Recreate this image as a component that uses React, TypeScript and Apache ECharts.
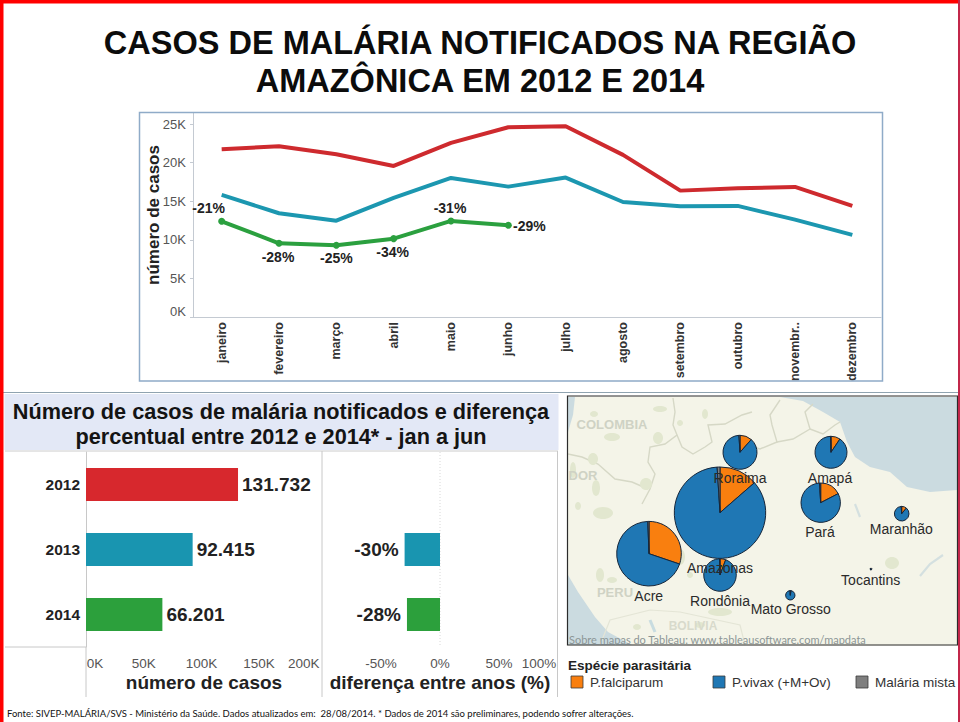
import React, { useEffect, useRef } from "react";
import * as echarts from "echarts";

const months = ["janeiro", "fevereiro", "março", "abril", "maio", "junho", "julho", "agosto", "setembro", "outubro", "novembr..", "dezembro"];
const yTicksNote = "K";
const cases2012 = [21730, 22120, 21080, 19570, 22550, 24580, 24710, 21000, 16370, 16680, 16850, 14390];
const cases2013 = [15810, 13440, 12480, 15420, 18010, 16890, 18060, 14900, 14340, 14390, 12610, 10630];
const cases2014 = [12400, 9550, 9290, 10150, 12440, 11880];
const diff2014 = [-21, -28, -25, -34, -31, -29];

const years = ["2012", "2013", "2014"];
const totals = [131732, 92415, 66201];
const diffs = [null, -30, -28];

const states = ["Acre", "Rondônia", "Amazonas", "Roraima", "Amapá", "Pará", "Maranhão", "Mato Grosso", "Tocantins"];
const falciparum = [30.2, 5.7, 13.6, 11.5, 9.4, 17.4, 11, 3, 5];
const vivax = [69.2, 93.8, 85.4, 87.5, 90.1, 81.6, 88, 96.5, 95];
const mista = [0.6, 0.5, 1, 1, 0.5, 1, 1, 0.5, 0];
const species = ["P.falciparum", "P.vivax (+M+Ov)", "Malária mista"];

const RED = "#CE2A2E";
const TEAL = "#1C97B0";
const GREEN = "#2BA03F";
const ORANGE = "#F97F0F";
const BLUE = "#1F77B4";
const GRAY = "#7F7F7F";
const SANS = '"Liberation Sans", Arial, sans-serif';

const pieLayout: Record<string, { c: number[]; r: number; l: number[] }> = {
  Acre: { c: [649, 553.7], r: 32.3, l: [648.7, 596] },
  Rondônia: { c: [720, 575], r: 16.3, l: [720, 600.7] },
  Amazonas: { c: [720, 512.7], r: 45.7, l: [720, 568] },
  Roraima: { c: [740, 452.3], r: 17, l: [740, 478] },
  Amapá: { c: [831, 452.3], r: 16, l: [830, 477.7] },
  Pará: { c: [820.7, 502.7], r: 19.7, l: [820, 532] },
  Maranhão: { c: [901.7, 513.7], r: 7.3, l: [901.3, 529] },
  "Mato Grosso": { c: [790.3, 595.3], r: 4.7, l: [790.7, 609] },
  Tocantins: { c: [871, 569], r: 1.3, l: [870.7, 580] },
};

const pctOffsets = [[-13, -13], [-1, 14], [0, 13], [-1, 13], [-1, -13], [21, 1]];

const txt = (text: string, x: number, y: number, font: string, fill: string, align = "center", z = 100, extra: any = {}) => ({
  type: "text", x, y, z, silent: true,
  style: { text, font, fill, align, verticalAlign: "middle", ...extra },
});
const rect = (x: number, y: number, w: number, h: number, fill: string, z = 0, extra: any = {}) => ({
  type: "rect", z, silent: true, shape: { x, y, width: w, height: h }, style: { fill, ...extra },
});
const vline = (x: number, y1: number, y2: number, stroke: string, extra: any = {}, z = 1) => ({
  type: "line", z, silent: true, shape: { x1: x, y1, x2: x, y2 }, style: { stroke, lineWidth: 1, ...extra },
});
const hline = (x1: number, x2: number, y: number, stroke: string, z = 1) => ({
  type: "line", z, silent: true, shape: { x1, y1: y, x2, y2: y }, style: { stroke, lineWidth: 1 },
});
const poly = (points: number[][], fill: string, z = 1) => ({
  type: "polygon", z, silent: true, shape: { points }, style: { fill },
});
const pline = (points: number[][], stroke = "#D6D8C6", lineWidth = 1.4, z = 1) => ({
  type: "polyline", z, silent: true, shape: { points }, style: { stroke, lineWidth, fill: "none" },
});
const blob = (cx: number, cy: number, rx: number, ry: number, fill = "#E2E7CF", z = 1) => ({
  type: "ellipse", z, silent: true, shape: { cx, cy, rx, ry }, style: { fill },
});

function mapGraphics() {
  const land = "#F4F4E8";
  const sea = "#CBDBE0";
  return [
    rect(567.5, 396.5, 390, 249, land, 0),
    poly([[775, 397], [780, 397], [803, 401], [823, 412], [840, 422], [847, 442], [855, 457], [870, 467], [890, 472], [907, 487], [930, 492], [957, 490], [957, 397]], sea),
    poly([[568, 575], [578, 592], [595, 617], [608, 632], [632, 645], [568, 645]], sea),
    poly([[568, 397], [575, 397], [573, 415], [568, 432]], sea),
    pline([[673, 398], [675, 412], [673, 425], [677, 435], [665, 444], [650, 447], [648, 462], [655, 474], [650, 489], [642, 504]]),
    pline([[677, 435], [682, 447], [693, 454], [705, 447], [712, 442], [708, 425], [725, 424], [742, 415], [752, 412]]),
    pline([[568, 454], [582, 457], [598, 464], [615, 479], [632, 482], [648, 489]]),
    pline([[780, 400], [770, 415], [772, 425], [777, 442], [760, 449], [750, 446], [742, 447]]),
    pline([[777, 442], [793, 439], [810, 429], [805, 412], [813, 404]]),
    pline([[810, 429], [823, 434], [835, 425], [840, 422]]),
    pline([[600, 645], [610, 620], [650, 610], [680, 612], [740, 625], [745, 645]], "#E4E5D6", 1.2),
    pline([[920, 576], [930, 564], [943, 555]], "#D4E0E0", 2.2),
    pline([[855, 504], [860, 517]], "#D4E0E0", 2.2),
    pline([[650, 620], [655, 632]], "#C8DCE0", 3),
    blob(612, 437, 8, 4), blob(594, 398 + 16, 4, 3), blob(660, 409, 7, 3), blob(658, 438, 5, 6),
    blob(705, 414, 3, 5), blob(680, 423, 3, 3), blob(593, 459, 5, 6), blob(596, 488, 4, 8),
    blob(646, 484, 6, 6), blob(603, 513, 10, 6), blob(578, 506, 3, 4), blob(567 + 6, 470, 3, 8),
    blob(600, 575, 4, 7), blob(612, 580, 5, 3), blob(680, 557, 5, 8), blob(690, 575, 3, 3),
    blob(720, 612, 12, 4), blob(700, 625, 5, 3), blob(637, 627, 4, 3), blob(892, 563, 7, 6),
    txt("COLOMBIA", 612, 424, `bold 13px ${SANS}`, "#CFD2C4", "center", 2),
    txt("DOR", 583, 475, `bold 13px ${SANS}`, "#CFD2C4", "center", 2),
    txt("PERU", 615, 592, `bold 13px ${SANS}`, "#CFD2C4", "center", 2),
    txt("BOLIVIA", 693, 626, `bold 12px ${SANS}`, "#D8DACC", "center", 2),
    txt("Sobre mapas do Tableau: www.tableausoftware.com/mapdata", 569, 639, `11px Lato, sans-serif`, "#8C9696", "left", 60),
    { type: "rect", z: 50, silent: true, shape: { x: 567.5, y: 396, width: 390, height: 249 }, style: { fill: "none", stroke: "#2B2B2B", lineWidth: 1.2 } },
  ];
}

function pieSeries() {
  return states.map((s, i) => ({
    type: "pie", silent: true, z: 5 + (s === "Rondônia" ? 0 : 1),
    center: pieLayout[s].c,
    radius: [0, pieLayout[s].r],
    startAngle: 90, clockwise: true,
    label: { show: false }, labelLine: { show: false },
    itemStyle: { borderColor: "#16263A", borderWidth: pieLayout[s].r < 3 ? 0 : 1 },
    data: [
      { name: species[0], value: falciparum[i], itemStyle: { color: ORANGE } },
      { name: species[1], value: vivax[i], itemStyle: { color: s === "Tocantins" ? "#16263A" : BLUE } },
      { name: species[2], value: mista[i], itemStyle: { color: GRAY } },
    ],
  }));
}

function buildOption(): any {
  const fmtTotal = (v: number) => String(v).replace(/(\d)(?=(\d{3})$)/, "$1.");
  const shifted = (label: string, key?: string) => (key ? `{${key}|${label}}` : `{n|${label}}`);
  const tickRich = (size: number) => ({
    n: { fontSize: size, color: "#555", fontFamily: SANS },
    l9: { fontSize: size, color: "#555", fontFamily: SANS, padding: [0, 0, 0, 18] },
    r13: { fontSize: size, color: "#555", fontFamily: SANS, padding: [0, 26, 0, 0] },
    r19: { fontSize: size, color: "#555", fontFamily: SANS, padding: [0, 38, 0, 0] },
    up: { fontSize: size, color: "#555", fontFamily: SANS, padding: [0, 0, 12, 0] },
  });
  return {
    animation: false,
    backgroundColor: "#fff",
    textStyle: { fontFamily: SANS },
    grid: [
      { left: 193, top: 113, width: 688, height: 204 },
      { left: 86, top: 452, width: 236, height: 195 },
      { left: 322, top: 452, width: 236, height: 195 },
    ],
    xAxis: [
      {
        type: "category", gridIndex: 0, data: months, boundaryGap: true,
        axisLine: { lineStyle: { color: "#C4CAD2" } },
        axisTick: { length: 5, alignWithLabel: false, lineStyle: { color: "#C4CAD2" } },
        axisLabel: { rotate: 90, interval: 0, margin: 5, fontSize: 12.5, fontWeight: "bold", color: "#333", fontFamily: SANS },
      },
      {
        type: "value", gridIndex: 1, min: 0, max: 204500, interval: 50000,
        splitLine: { show: false },
        axisLine: { lineStyle: { color: "#C8C8C8" } },
        axisTick: { length: 4, lineStyle: { color: "#C8C8C8" } },
        axisLabel: {
          showMaxLabel: false, margin: 9, rich: tickRich(13.5),
          formatter: (v: number) => shifted(`${v / 1000}${yTicksNote}`, v === 0 ? "l9" : v === 200000 ? "r13" : undefined),
        },
        name: "número de casos", nameLocation: "middle", nameGap: 26,
        nameTextStyle: { fontSize: 19, fontWeight: "bold", color: "#222", fontFamily: SANS },
      },
      {
        type: "value", gridIndex: 2, min: -100, max: 100, interval: 50,
        splitLine: { show: false },
        axisLine: { lineStyle: { color: "#C8C8C8" } },
        axisTick: { length: 4, lineStyle: { color: "#C8C8C8" } },
        axisLabel: {
          margin: 9, rich: tickRich(13.5),
          formatter: (v: number) => (v === -100 ? "" : shifted(`${v}%`, v === 100 ? "r19" : undefined)),
        },
        name: "diferença entre anos (%)", nameLocation: "middle", nameGap: 26,
        nameTextStyle: { fontSize: 19, fontWeight: "bold", color: "#222", fontFamily: SANS },
      },
    ],
    yAxis: [
      {
        type: "value", gridIndex: 0, min: 0, max: 26425, interval: 5000,
        splitLine: { show: false },
        axisLine: { show: true, lineStyle: { color: "#C4CAD2" } },
        axisTick: { show: true, length: 3, lineStyle: { color: "#C4CAD2" } },
        axisLabel: {
          showMaxLabel: false, margin: 7, rich: tickRich(13),
          formatter: (v: number) => shifted(`${v / 1000}K`, v === 0 ? "up" : undefined),
        },
      },
      {
        type: "category", gridIndex: 1, data: years, inverse: true,
        axisLine: { show: true, lineStyle: { color: "#C8C8C8" } },
        axisTick: { show: false },
        axisLabel: { margin: 6, fontSize: 15.5, fontWeight: "bold", color: "#222", fontFamily: SANS },
      },
      {
        type: "category", gridIndex: 2, data: years, inverse: true,
        axisLine: { show: false }, axisTick: { show: false }, axisLabel: { show: false },
      },
    ],
    series: [
      { type: "line", xAxisIndex: 0, yAxisIndex: 0, data: cases2012, symbol: "none", lineStyle: { color: RED, width: 4 }, z: 3 },
      { type: "line", xAxisIndex: 0, yAxisIndex: 0, data: cases2013, symbol: "none", lineStyle: { color: TEAL, width: 4 }, z: 3 },
      {
        type: "line", xAxisIndex: 0, yAxisIndex: 0, symbol: "circle", symbolSize: 7, z: 3,
        lineStyle: { color: GREEN, width: 4 }, itemStyle: { color: GREEN },
        data: cases2014.map((v, i) => ({
          value: v,
          label: {
            show: true, position: "inside", offset: pctOffsets[i], formatter: `${diff2014[i]}%`,
            fontSize: 14, fontWeight: "bold", color: "#222", fontFamily: SANS,
          },
        })),
      },
      {
        type: "bar", xAxisIndex: 1, yAxisIndex: 1, barWidth: 33,
        data: totals.map((v, i) => ({ value: v, itemStyle: { color: [ "#D7282D", "#1995B0", "#2CA03C" ][i] } })),
        label: {
          show: true, position: "right", distance: 4, fontSize: 19, fontWeight: "bold", color: "#222", fontFamily: SANS,
          formatter: (p: any) => fmtTotal(p.value),
        },
      },
      {
        type: "bar", xAxisIndex: 2, yAxisIndex: 2, barWidth: 33,
        data: diffs.map((v, i) => ({ value: v, itemStyle: { color: [ "#D7282D", "#1995B0", "#2CA03C" ][i] } })),
        label: {
          show: true, position: "left", distance: 6, fontSize: 19, fontWeight: "bold", color: "#222", fontFamily: SANS,
          formatter: (p: any) => `${p.value}%`,
        },
      },
      ...pieSeries(),
    ],
    graphic: { elements: [
      rect(0, 0, 960, 3.5, "#FF0000", 200),
      rect(0, 0, 3.5, 722, "#FF0000", 200),
      rect(958, 0, 2, 722, "#C2274A", 200),
      txt("CASOS DE MALÁRIA NOTIFICADOS NA REGIÃO\nAMAZÔNICA EM 2012 E 2014", 480, 62, `bold 32.5px ${SANS}`, "#0C0C0C", "center", 100, { lineHeight: 38 }),
      { ...txt("número de casos", 153, 215, `bold 17px ${SANS}`, "#222"), rotation: Math.PI / 2 },
      { type: "rect", z: 1, silent: true, shape: { x: 139.5, y: 112.5, width: 743, height: 268.5 }, style: { fill: "none", stroke: "#8FABC8", lineWidth: 1.5 } },
      hline(3, 958, 392.5, "#8FA3B0"),
      rect(4.5, 394, 554, 56, "#E3E8F6"),
      txt("Número de casos de malária notificados e diferença", 281, 411, `bold 21.7px ${SANS}`, "#141414"),
      txt("percentual entre 2012 e 2014* - jan a jun", 281, 436, `bold 21.7px ${SANS}`, "#141414"),
      hline(5, 558, 451, "#CCCCCC"),
      vline(86, 647, 697, "#C8C8C8"),
      vline(322, 451, 697, "#C8C8C8"),
      vline(557.5, 451, 697, "#C8C8C8"),
      vline(440, 452, 647, "#D8D8D8", { lineDash: [1, 2] }),
      hline(5, 86, 647, "#C8C8C8"),
      ...mapGraphics(),
      ...states.map((s) => txt(s, pieLayout[s].l[0], pieLayout[s].l[1], `14px ${SANS}`, "#2A2A2A")),
      txt("Espécie parasitária", 568, 665, `bold 13.5px ${SANS}`, "#222", "left"),
      ...[571, 713, 856].flatMap((x, i) => [
        { type: "rect", z: 10, silent: true, shape: { x, y: 676, width: 12, height: 12 }, style: { fill: [ORANGE, BLUE, GRAY][i], stroke: "#3A3A3A", lineWidth: 0.8 } },
        txt(species[i], x + 19, 682, `13.5px ${SANS}`, "#333", "left"),
      ]),
      txt("Fonte: SIVEP-MALÁRIA/SVS - Ministério da Saúde. Dados atualizados em:  28/08/2014. * Dados de 2014 são preliminares, podendo sofrer alterações.", 7, 713, `9.5px Lato, sans-serif`, "#111", "left"),
    ] },
  };
}

export default function App() {
  const ref = useRef<HTMLDivElement>(null);
  useEffect(() => {
    document.body.style.margin = "0";
    const chart = echarts.init(ref.current!, undefined, { renderer: "svg" });
    chart.setOption(buildOption());
    return () => chart.dispose();
  }, []);
  return <div ref={ref} style={{ position: "fixed", left: 0, top: 0, width: 960, height: 722 }} />;
}
